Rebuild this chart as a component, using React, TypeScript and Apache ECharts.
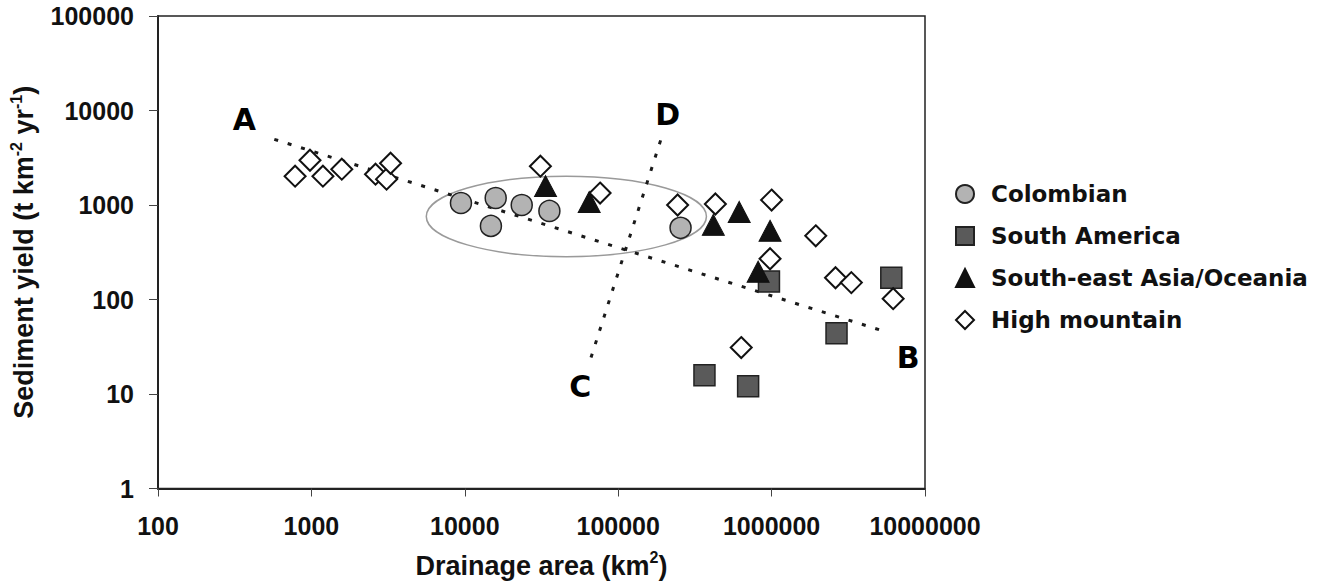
import React, { useEffect, useRef } from 'react';
import * as echarts from 'echarts';

const AXIS_FONT = '"Liberation Sans", Arial, sans-serif';
const HEAVY_FONT = '"DejaVu Sans", "Liberation Sans", sans-serif';

// Drainage area (km2) and sediment yield (t km-2 yr-1)
const colombianArea = [9440, 14800, 15900, 23500, 35600, 255000];
const colombianYield = [1050, 601, 1186, 1000, 865, 573];

const southAmericaArea = [365000, 703000, 961000, 2650000, 6030000];
const southAmericaYield = [15.8, 12.1, 155, 44, 170];

const seAsiaArea = [33600, 64700, 417000, 615000, 977000, 817000];
const seAsiaYield = [1585, 1076, 616, 844, 533, 197];

const highMountainArea = [783, 979, 1189, 1578, 2618, 3090, 3281, 31100, 76200, 244000, 430000, 1000000, 1940000, 977000, 2610000, 3310000, 6200000, 634000];
const highMountainYield = [2018, 2978, 2018, 2393, 2119, 1878, 2768, 2575, 1337, 1000, 1025, 1128, 472, 270, 170, 151, 102, 31];

// Trend lines (end points) and annotation letters
const lineAB = [[573, 4955], [5680000, 45]];
const lineCD = [[189000, 4830], [64700, 21.2]];
const letterNames = ['A', 'B', 'C', 'D'];
const letterArea = [366, 7760000, 56600, 210000];
const letterYield = [8030, 24.5, 12.1, 9080];

// Ellipse bounding box around the Colombian cluster: [xLeft, yTop, xRight, yBottom]
const ellipseBox = [5610, 2018, 376000, 284];

const zip = (xs: number[], ys: number[]) => xs.map((x, i) => [x, ys[i]]);

export default function App() {
  const ref = useRef<HTMLDivElement>(null);
  useEffect(() => {
    if (!ref.current) return;
    const chart = echarts.init(ref.current, undefined, { renderer: 'svg' });
    const labelStyle = { fontFamily: AXIS_FONT, fontWeight: 'bold' as const, fontSize: 25, color: '#111' };
    const dotted = { type: [4, 10] as any, width: 3, color: '#1a1a1a' };
    const nameRich = {
      a: { fontFamily: AXIS_FONT, fontWeight: 'bold', fontSize: 27, color: '#111', lineHeight: 32 },
      s: { fontFamily: AXIS_FONT, fontWeight: 'bold', fontSize: 16, color: '#111', lineHeight: 18, verticalAlign: 'top' },
    };
    chart.setOption({
      animation: false,
      backgroundColor: '#fff',
      grid: { left: 153, top: 16, width: 772, height: 475, show: true, borderColor: '#222', borderWidth: 1.5 },
      xAxis: {
        type: 'log',
        logBase: 10,
        min: 100,
        max: 10000000,
        axisLine: { lineStyle: { color: '#222', width: 2 } },
        axisTick: { length: 8, lineStyle: { color: '#444', width: 1 } },
        splitLine: { show: false },
        axisLabel: { ...labelStyle, margin: 25, formatter: (v: number) => String(Math.round(v)) },
        name: '{a|Drainage area (km}{s|2}{a|)}',
        nameLocation: 'middle',
        nameGap: 61,
        nameTextStyle: { rich: nameRich },
      },
      yAxis: {
        type: 'log',
        logBase: 10,
        min: 1,
        max: 100000,
        axisLine: { lineStyle: { color: '#222', width: 2 } },
        axisTick: { length: 9, lineStyle: { color: '#444', width: 1 } },
        splitLine: { show: false },
        axisLabel: { ...labelStyle, margin: 24, formatter: (v: number) => String(Math.round(v)) },
        name: '{a|Sediment yield (t km}{s|-2}{a| yr}{s|-1}{a|)}',
        nameLocation: 'middle',
        nameRotate: 90,
        nameGap: 118,
        nameTextStyle: { rich: nameRich },
      },
      legend: {
        orient: 'vertical',
        left: 955,
        top: 182,
        padding: 0,
        itemGap: 18,
        itemWidth: 18,
        itemHeight: 18,
        data: ['Colombian', 'South America', 'South-east Asia/Oceania', 'High mountain'],
        textStyle: { fontFamily: HEAVY_FONT, fontWeight: 'bold', fontSize: 23, lineHeight: 24, color: '#111', padding: [0, 0, 0, 12] },
      },
      series: [
        {
          type: 'custom',
          silent: true,
          z: 1,
          data: [ellipseBox],
          encode: { x: [0, 2], y: [1, 3] },
          renderItem: (_p: any, api: any) => {
            const a = api.coord([api.value(0), api.value(1)]);
            const b = api.coord([api.value(2), api.value(3)]);
            return {
              type: 'ellipse',
              shape: { cx: (a[0] + b[0]) / 2, cy: (a[1] + b[1]) / 2, rx: Math.abs(b[0] - a[0]) / 2, ry: Math.abs(b[1] - a[1]) / 2 },
              style: { fill: 'none', stroke: '#9a9a9a', lineWidth: 1.5 },
            };
          },
        },
        { type: 'line', name: 'AB', data: lineAB, symbol: 'none', silent: true, z: 1, lineStyle: dotted },
        { type: 'line', name: 'CD', data: lineCD, symbol: 'none', silent: true, z: 1, lineStyle: dotted },
        {
          type: 'scatter',
          name: 'letters',
          silent: true,
          z: 1,
          symbolSize: 1,
          itemStyle: { color: 'rgba(0,0,0,0)', opacity: 1 },
          data: letterNames.map((n, i) => ({ name: n, value: [letterArea[i], letterYield[i]] })),
          label: { show: true, position: 'inside', formatter: '{b}', fontFamily: HEAVY_FONT, fontWeight: 'bold', fontSize: 30, color: '#000', opacity: 1 },
        },
        {
          type: 'scatter',
          name: 'Colombian',
          symbol: 'circle',
          symbolSize: 21,
          z: 3,
          data: zip(colombianArea, colombianYield),
          itemStyle: { color: '#b3b3b3', borderColor: '#222', borderWidth: 1.5, opacity: 1 },
        },
        {
          type: 'scatter',
          name: 'South America',
          symbol: 'rect',
          symbolSize: 21,
          z: 3,
          data: zip(southAmericaArea, southAmericaYield),
          itemStyle: { color: '#5a5a5a', borderColor: '#222', borderWidth: 1.5, opacity: 1 },
        },
        {
          type: 'scatter',
          name: 'South-east Asia/Oceania',
          symbol: 'triangle',
          symbolSize: [22, 21],
          z: 3,
          data: zip(seAsiaArea, seAsiaYield),
          itemStyle: { color: '#111', borderColor: '#111', borderWidth: 1, opacity: 1 },
        },
        {
          type: 'scatter',
          name: 'High mountain',
          symbol: 'diamond',
          symbolSize: 21,
          z: 3,
          data: zip(highMountainArea, highMountainYield),
          itemStyle: { color: '#fff', borderColor: '#111', borderWidth: 2, opacity: 1 },
        },
      ],
    });
    return () => chart.dispose();
  }, []);
  return <div ref={ref} style={{ position: 'fixed', left: 0, top: 0, width: 1323, height: 584 }} />;
}
